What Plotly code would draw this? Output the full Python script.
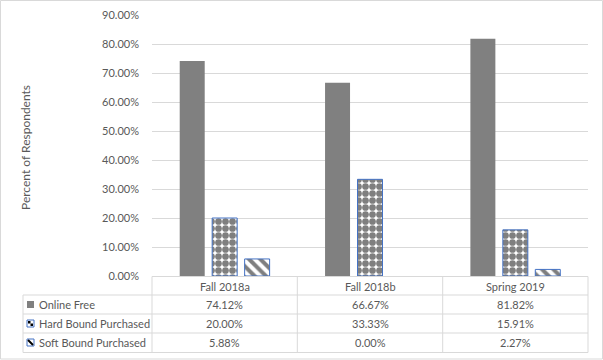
import plotly.graph_objects as go

# ---- data ----
categories = ["Fall 2018a", "Fall 2018b", "Spring 2019"]
series_names = ["Online Free", "Hard Bound Purchased", "Soft Bound Purchased"]
online_free = [0.7412, 0.6667, 0.8182]
hard_bound = [0.2000, 0.3333, 0.1591]
soft_bound = [0.0588, 0.0000, 0.0227]
y_title = "Percent of Respondents"

series_values = [online_free, hard_bound, soft_bound]

# ---- geometry helpers (pixel -> paper) ----
L, T, W, H = 152, 15, 436, 261
FIG_W, FIG_H = 603, 360


def px(x):
    return (x - L) / W


def py(y):
    return (T + H - y) / H


TXT = "#595959"
GRID = "#D9D9D9"
FONT = "Lato"
BLUE = "#4472C4"

patterns = [
    None,
    dict(shape=".", fgcolor="black", bgcolor="white", size=7, solidity=0.72),
    dict(shape="\\", fgcolor="black", bgcolor="white", size=8, solidity=0.5),
]
fills = ["#808080", "white", "white"]
outline = [0, 1, 1]

fig = go.Figure()
for name, vals, fc, pat, ow in zip(series_names, series_values, fills, patterns, outline):
    mk = dict(color=fc, line=dict(color=BLUE, width=[ow if v > 0 else 0 for v in vals]))
    if pat:
        mk["pattern"] = pat
    fig.add_trace(go.Bar(name=name, x=categories, y=vals, marker=mk, showlegend=False,
                         hoverinfo="skip"))

shapes = []
annotations = []


def hline(y, x0, x1):
    shapes.append(dict(type="line", xref="paper", yref="paper", x0=px(x0), x1=px(x1),
                       y0=py(y), y1=py(y), line=dict(color=GRID, width=1), layer="above"))


def vline(x, y0, y1):
    shapes.append(dict(type="line", xref="paper", yref="paper", x0=px(x), x1=px(x),
                       y0=py(y0), y1=py(y1), line=dict(color=GRID, width=1), layer="above"))


# table grid
row_y = [276.5, 295, 314, 333, 352.5]
hline(row_y[0], 152, 588)
for y in row_y[1:]:
    hline(y, 23, 588)
for x in [152, 297.3, 442.7, 588]:
    vline(x, row_y[0], row_y[-1])
vline(23, row_y[1], row_y[-1])

# outer border
shapes.append(dict(type="rect", xref="paper", yref="paper", x0=px(0.5), x1=px(602.5),
                   y0=py(0.5), y1=py(359), line=dict(color=GRID, width=1), layer="above"))

# header texts
for c in categories:
    annotations.append(dict(x=c, xref="x", y=py(286), yref="paper", text=c, showarrow=False,
                            font=dict(family=FONT, size=11, color=TXT), xanchor="center", yanchor="middle"))

# values and row labels
row_centers = [304.5, 323.5, 342.5]
for rc, name, vals in zip(row_centers, series_names, series_values):
    annotations.append(dict(x=px(37), xref="paper", y=py(rc), yref="paper", text=name, showarrow=False,
                            font=dict(family=FONT, size=11, color=TXT), xanchor="left", yanchor="middle"))
    for c, v in zip(categories, vals):
        annotations.append(dict(x=c, xref="x", y=py(rc), yref="paper", text=f"{v:.2%}", showarrow=False,
                                font=dict(family=FONT, size=11, color=TXT), xanchor="center", yanchor="middle"))

# legend keys
kx0, kx1 = 27, 34
k0 = row_centers[0]
shapes.append(dict(type="rect", xref="paper", yref="paper", x0=px(kx0), x1=px(kx1),
                   y0=py(k0 - 3.5), y1=py(k0 + 3.5), fillcolor="#808080", line=dict(width=0), layer="above"))
k1 = row_centers[1]
shapes.append(dict(type="rect", xref="paper", yref="paper", x0=px(kx0), x1=px(kx1),
                   y0=py(k1 - 3.5), y1=py(k1 + 3.5), fillcolor="white", line=dict(color=BLUE, width=1), layer="above"))
shapes.append(dict(type="rect", xref="paper", yref="paper", x0=px(kx0 + 1), x1=px(kx0 + 3.5),
                   y0=py(k1 - 2.5), y1=py(k1), fillcolor="black", line=dict(width=0), layer="above"))
shapes.append(dict(type="rect", xref="paper", yref="paper", x0=px(kx0 + 3.5), x1=px(kx1 - 1),
                   y0=py(k1), y1=py(k1 + 2.5), fillcolor="black", line=dict(width=0), layer="above"))
k2 = row_centers[2]
shapes.append(dict(type="rect", xref="paper", yref="paper", x0=px(kx0), x1=px(kx1),
                   y0=py(k2 - 3.5), y1=py(k2 + 3.5), fillcolor="white", line=dict(color=BLUE, width=1), layer="above"))
shapes.append(dict(type="line", xref="paper", yref="paper", x0=px(kx0 + 1), x1=px(kx1 - 1),
                   y0=py(k2 - 2.5), y1=py(k2 + 2.5), line=dict(color="black", width=2), layer="above"))

# y-axis title
annotations.append(dict(x=px(25), xref="paper", y=py(148), yref="paper", text=y_title, textangle=-90,
                        showarrow=False, font=dict(family=FONT, size=12, color=TXT),
                        xanchor="center", yanchor="middle"))

fig.update_layout(
    width=FIG_W, height=FIG_H,
    margin=dict(l=L, r=FIG_W - L - W, t=T, b=FIG_H - T - H, autoexpand=False),
    paper_bgcolor="white", plot_bgcolor="white",
    barmode="group", bargap=0.33, bargroupgap=0.23,
    showlegend=False,
    font=dict(family=FONT, color=TXT),
    xaxis=dict(range=[-0.5, 2.5], showticklabels=False, showgrid=False, zeroline=False,
               showline=False, ticks="", fixedrange=True),
    yaxis=dict(range=[0, 0.9], dtick=0.1, tick0=0, tickformat=".2%", showgrid=True,
               gridcolor=GRID, gridwidth=1, zeroline=False, showline=False, ticks="",
               ticklabelstandoff=12, tickfont=dict(family=FONT, size=11, color=TXT), fixedrange=True),
    shapes=shapes,
    annotations=annotations,
)

fig.write_html("out.html", config={"displayModeBar": False},
               post_script="document.body.style.margin='0';document.body.style.padding='0';")
